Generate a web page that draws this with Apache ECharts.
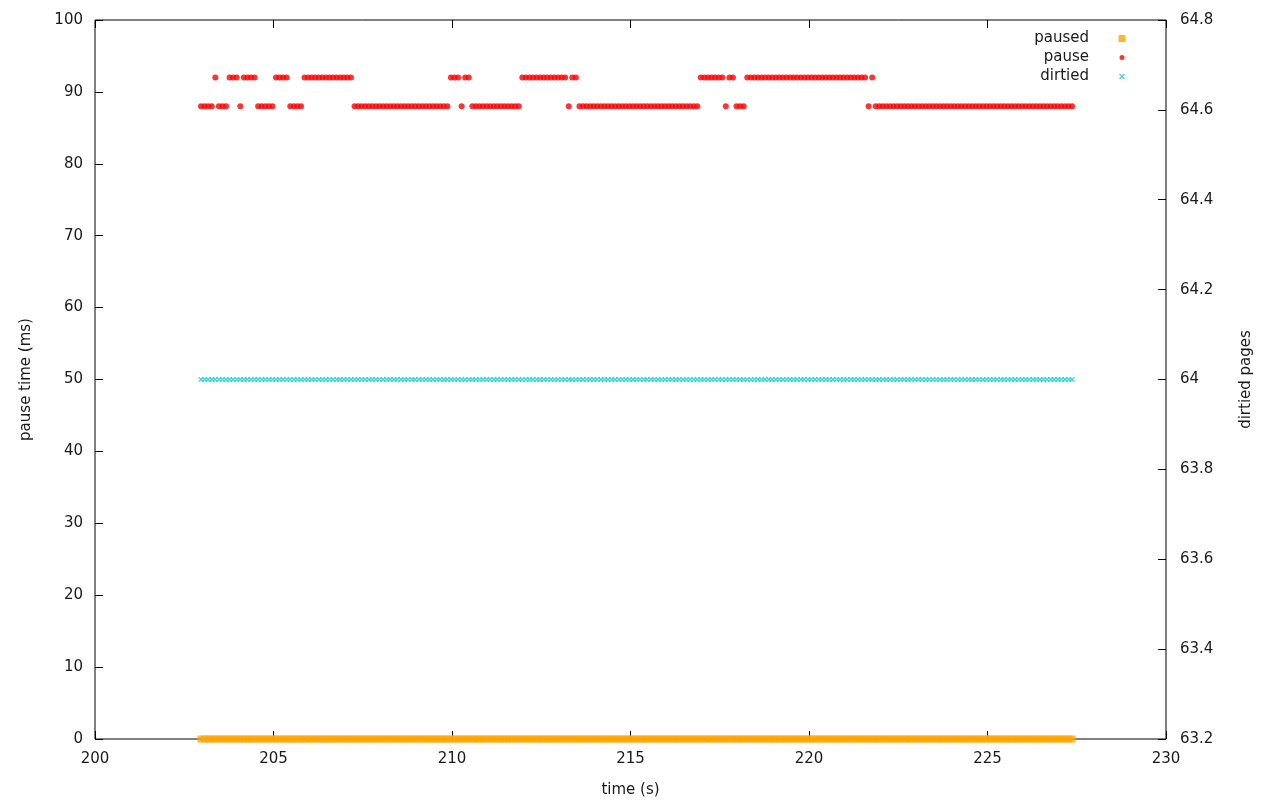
<!DOCTYPE html>
<html>
<head>
<meta charset="utf-8">
<script src="https://cdn.jsdelivr.net/npm/echarts@6/dist/echarts.min.js"></script>
<style>
html,body{margin:0;padding:0;background:#fff;}
#chart{width:1280px;height:800px;}
</style>
</head>
<body>
<div id="chart"></div>
<script>
// time (s) of each sample
const times = [
202.97,203.07,203.17,203.27,203.37,203.47,203.57,203.67,203.77,203.87,
203.97,204.07,204.17,204.27,204.37,204.47,204.57,204.67,204.77,204.87,
204.97,205.07,205.17,205.27,205.37,205.47,205.57,205.67,205.77,205.87,
205.97,206.07,206.17,206.27,206.37,206.47,206.57,206.67,206.77,206.87,
206.97,207.07,207.17,207.27,207.37,207.47,207.57,207.67,207.77,207.87,
207.97,208.07,208.17,208.27,208.37,208.47,208.57,208.67,208.77,208.87,
208.97,209.07,209.17,209.27,209.37,209.47,209.57,209.67,209.77,209.87,
209.97,210.07,210.17,210.27,210.37,210.47,210.57,210.67,210.77,210.87,
210.97,211.07,211.17,211.27,211.37,211.47,211.57,211.67,211.77,211.87,
211.97,212.07,212.17,212.27,212.37,212.47,212.57,212.67,212.77,212.87,
212.97,213.07,213.17,213.27,213.37,213.47,213.57,213.67,213.77,213.87,
213.97,214.07,214.17,214.27,214.37,214.47,214.57,214.67,214.77,214.87,
214.97,215.07,215.17,215.27,215.37,215.47,215.57,215.67,215.77,215.87,
215.97,216.07,216.17,216.27,216.37,216.47,216.57,216.67,216.77,216.87,
216.97,217.07,217.17,217.27,217.37,217.47,217.57,217.67,217.77,217.87,
217.97,218.07,218.17,218.27,218.37,218.47,218.57,218.67,218.77,218.87,
218.97,219.07,219.17,219.27,219.37,219.47,219.57,219.67,219.77,219.87,
219.97,220.07,220.17,220.27,220.37,220.47,220.57,220.67,220.77,220.87,
220.97,221.07,221.17,221.27,221.37,221.47,221.57,221.67,221.77,221.87,
221.97,222.07,222.17,222.27,222.37,222.47,222.57,222.67,222.77,222.87,
222.97,223.07,223.17,223.27,223.37,223.47,223.57,223.67,223.77,223.87,
223.97,224.07,224.17,224.27,224.37,224.47,224.57,224.67,224.77,224.87,
224.97,225.07,225.17,225.27,225.37,225.47,225.57,225.67,225.77,225.87,
225.97,226.07,226.17,226.27,226.37,226.47,226.57,226.67,226.77,226.87,
226.97,227.07,227.17,227.27,227.37
];

// pause time (ms)
const pauseVals = [
88,88,88,88,92,88,88,88,92,92,
92,88,92,92,92,92,88,88,88,88,
88,92,92,92,92,88,88,88,88,92,
92,92,92,92,92,92,92,92,92,92,
92,92,92,88,88,88,88,88,88,88,
88,88,88,88,88,88,88,88,88,88,
88,88,88,88,88,88,88,88,88,88,
92,92,92,88,92,92,88,88,88,88,
88,88,88,88,88,88,88,88,88,88,
92,92,92,92,92,92,92,92,92,92,
92,92,92,88,92,92,88,88,88,88,
88,88,88,88,88,88,88,88,88,88,
88,88,88,88,88,88,88,88,88,88,
88,88,88,88,88,88,88,88,88,88,
92,92,92,92,92,92,92,88,92,92,
88,88,88,92,92,92,92,92,92,92,
92,92,92,92,92,92,92,92,92,92,
92,92,92,92,92,92,92,92,92,92,
92,92,92,92,92,92,92,88,92,88,
88,88,88,88,88,88,88,88,88,88,
88,88,88,88,88,88,88,88,88,88,
88,88,88,88,88,88,88,88,88,88,
88,88,88,88,88,88,88,88,88,88,
88,88,88,88,88,88,88,88,88,88,
88,88,88,88,88
];

// paused (ms)
const pausedVals = [
0,0,0,0,0,0,0,0,0,0, 0,0,0,0,0,0,0,0,0,0, 0,0,0,0,0,0,0,0,0,0,
0,0,0,0,0,0,0,0,0,0, 0,0,0,0,0,0,0,0,0,0, 0,0,0,0,0,0,0,0,0,0,
0,0,0,0,0,0,0,0,0,0, 0,0,0,0,0,0,0,0,0,0, 0,0,0,0,0,0,0,0,0,0,
0,0,0,0,0,0,0,0,0,0, 0,0,0,0,0,0,0,0,0,0, 0,0,0,0,0,0,0,0,0,0,
0,0,0,0,0,0,0,0,0,0, 0,0,0,0,0,0,0,0,0,0, 0,0,0,0,0,0,0,0,0,0,
0,0,0,0,0,0,0,0,0,0, 0,0,0,0,0,0,0,0,0,0, 0,0,0,0,0,0,0,0,0,0,
0,0,0,0,0,0,0,0,0,0, 0,0,0,0,0,0,0,0,0,0, 0,0,0,0,0,0,0,0,0,0,
0,0,0,0,0,0,0,0,0,0, 0,0,0,0,0,0,0,0,0,0, 0,0,0,0,0,0,0,0,0,0,
0,0,0,0,0
];

// dirtied pages
const dirtiedVals = [
64,64,64,64,64,64,64,64,64,64, 64,64,64,64,64,64,64,64,64,64, 64,64,64,64,64,64,64,64,64,64,
64,64,64,64,64,64,64,64,64,64, 64,64,64,64,64,64,64,64,64,64, 64,64,64,64,64,64,64,64,64,64,
64,64,64,64,64,64,64,64,64,64, 64,64,64,64,64,64,64,64,64,64, 64,64,64,64,64,64,64,64,64,64,
64,64,64,64,64,64,64,64,64,64, 64,64,64,64,64,64,64,64,64,64, 64,64,64,64,64,64,64,64,64,64,
64,64,64,64,64,64,64,64,64,64, 64,64,64,64,64,64,64,64,64,64, 64,64,64,64,64,64,64,64,64,64,
64,64,64,64,64,64,64,64,64,64, 64,64,64,64,64,64,64,64,64,64, 64,64,64,64,64,64,64,64,64,64,
64,64,64,64,64,64,64,64,64,64, 64,64,64,64,64,64,64,64,64,64, 64,64,64,64,64,64,64,64,64,64,
64,64,64,64,64,64,64,64,64,64, 64,64,64,64,64,64,64,64,64,64, 64,64,64,64,64,64,64,64,64,64,
64,64,64,64,64
];

const seriesNames = ['paused', 'pause', 'dirtied'];
const xAxisTitle = 'time (s)';
const yAxisTitle = 'pause time (ms)';
const y2AxisTitle = 'dirtied pages';

const pair = (xs, ys) => xs.map((x, i) => [x, ys[i]]);

const FONT = 'DejaVu Sans';
const TXT = '#1a1a1a';
const xPath = 'path://M0,1.6 L1.6,0 L5,3.4 L8.4,0 L10,1.6 L6.6,5 L10,8.4 L8.4,10 L5,6.6 L1.6,10 L0,8.4 L3.4,5 Z';

const chart = echarts.init(document.getElementById('chart'), null, {renderer: 'canvas'});

function legendFor(name, icon, w, top) {
  return {
    data: [{name: name, icon: icon}],
    orient: 'vertical',
    align: 'right',
    right: 1280 - (1122 + w / 2),
    top: top,
    padding: 0,
    itemWidth: w,
    itemHeight: w,
    selectedMode: false,
    textStyle: {fontFamily: FONT, fontSize: 15, color: TXT, padding: [0, 28 - w / 2, 0, 0]}
  };
}

chart.setOption({
  animation: false,
  backgroundColor: '#fff',
  grid: {left: 95, right: 114, top: 20, bottom: 61, containLabel: false, outerBoundsMode: 'none',
         show: true, borderColor: '#000', borderWidth: 1, backgroundColor: 'transparent'},
  legend: [
    legendFor(seriesNames[0], 'rect', 7, 31),
    legendFor(seriesNames[1], 'circle', 5, 50),
    legendFor(seriesNames[2], xPath, 6, 69)
  ],
  xAxis: [
    {
      type: 'value', min: 200, max: 230, interval: 5, position: 'bottom',
      name: xAxisTitle, nameLocation: 'middle', nameGap: 44,
      nameTextStyle: {fontFamily: FONT, fontSize: 15, color: TXT},
      axisLine: {show: false},
      axisTick: {show: true, inside: true, length: 8, lineStyle: {color: '#000'}},
      axisLabel: {fontFamily: FONT, fontSize: 15, color: TXT, margin: 13},
      splitLine: {show: false}
    },
    {
      type: 'value', min: 200, max: 230, interval: 5, position: 'top',
      axisLine: {show: false},
      axisTick: {show: true, inside: true, length: 8, lineStyle: {color: '#000'}},
      axisLabel: {show: false},
      splitLine: {show: false}
    }
  ],
  yAxis: [
    {
      type: 'value', min: 0, max: 100, interval: 10, position: 'left',
      name: yAxisTitle, nameLocation: 'middle', nameGap: 61, nameRotate: 90,
      nameTextStyle: {fontFamily: FONT, fontSize: 15, color: TXT},
      axisLine: {show: false},
      axisTick: {show: true, inside: true, length: 8, lineStyle: {color: '#000'}},
      axisLabel: {fontFamily: FONT, fontSize: 15, color: TXT, margin: 12},
      splitLine: {show: false}
    },
    {
      type: 'value', min: 63.2, max: 64.8, interval: 0.2, position: 'right',
      name: y2AxisTitle, nameLocation: 'middle', nameGap: 73, nameRotate: 90,
      nameTextStyle: {fontFamily: FONT, fontSize: 15, color: TXT},
      axisLine: {show: false},
      axisTick: {show: true, inside: true, length: 8, lineStyle: {color: '#000'}},
      axisLabel: {fontFamily: FONT, fontSize: 15, color: TXT, margin: 14},
      splitLine: {show: false}
    }
  ],
  series: [
    {
      name: seriesNames[0], type: 'scatter', xAxisIndex: 0, yAxisIndex: 0,
      symbol: 'rect', symbolSize: 7, clip: false,
      itemStyle: {color: '#ffa500'},
      data: pair(times, pausedVals)
    },
    {
      name: seriesNames[1], type: 'scatter', xAxisIndex: 0, yAxisIndex: 0,
      symbol: 'circle', symbolSize: 6, clip: false,
      itemStyle: {color: '#ff0000'},
      data: pair(times, pauseVals)
    },
    {
      name: seriesNames[2], type: 'scatter', xAxisIndex: 0, yAxisIndex: 1,
      symbol: xPath, symbolSize: 5.5, clip: false,
      itemStyle: {color: '#18cccc'},
      data: pair(times, dirtiedVals)
    }
  ]
});
</script>
</body>
</html>
